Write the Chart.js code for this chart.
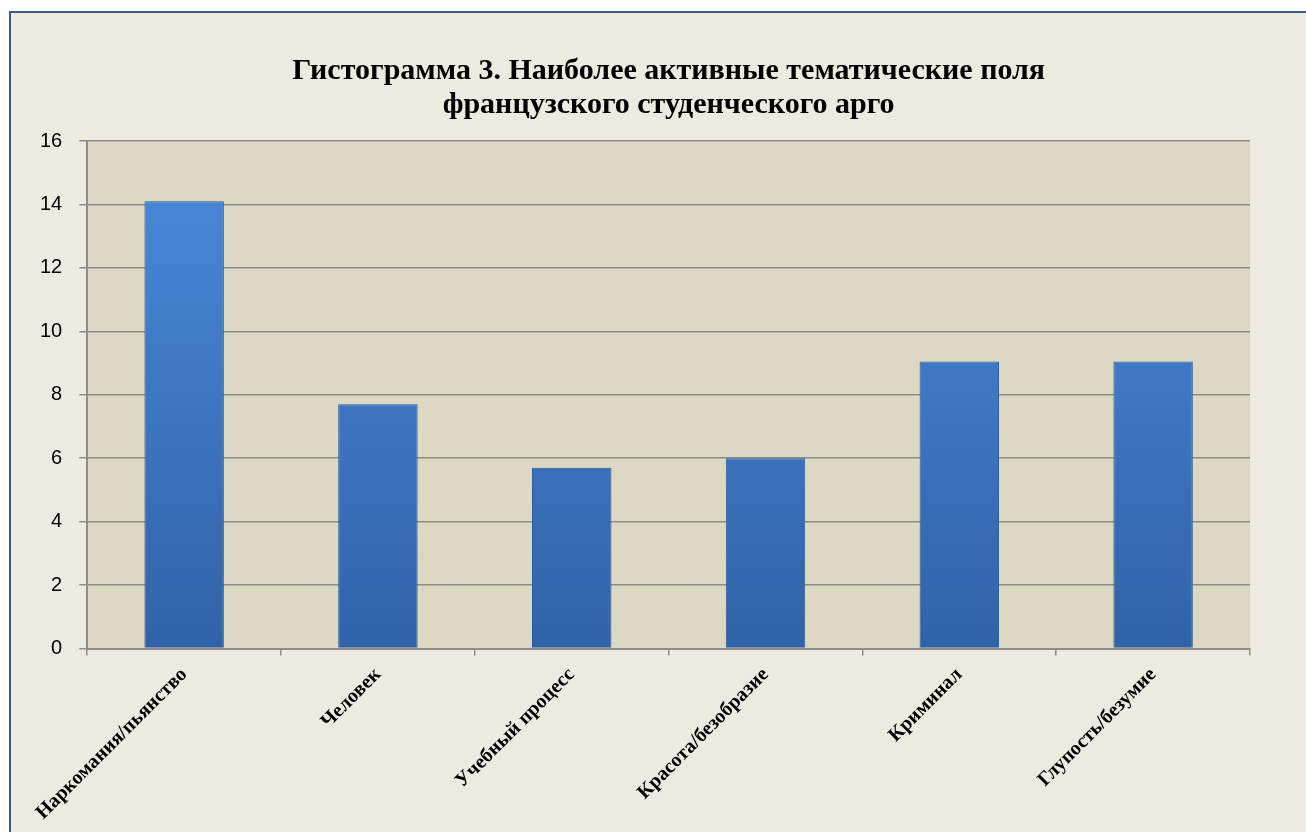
<!DOCTYPE html>
<html>
<head>
<meta charset="utf-8">
<script src="https://cdn.jsdelivr.net/npm/chart.js@4.4.1/dist/chart.umd.min.js"></script>
<style>
  html, body { margin: 0; padding: 0; background: #ffffff; overflow: hidden; }
  #frame {
    position: absolute; left: 9px; top: 11px; width: 1320px; height: 840px;
    border: 2px solid #3b5a86; background: #edebe0;
  }
  #wrap { position: absolute; left: 0; top: 0; width: 1306px; height: 832px; }
</style>
</head>
<body>
<div id="frame"></div>
<div id="wrap"><canvas id="chart"></canvas></div>
<script>
// categories and values
const categories = ['Наркомания/пьянство', 'Человек', 'Учебный процесс', 'Красота/безобразие', 'Криминал', 'Глупость/безумие']
const values = [14.1, 7.7, 5.7, 6.0, 9.05, 9.05]
const titleLines = ['Гистограмма 3. Наиболее активные тематические поля', 'французского студенческого арго']

// plot area fill (beige panel behind bars)
const plotBg = {
  id: 'plotBg',
  beforeDraw(chart) {
    const {ctx, chartArea} = chart
    ctx.save()
    ctx.fillStyle = '#ddd8c3'
    ctx.fillRect(chartArea.left, chartArea.top, chartArea.right - chartArea.left, chartArea.bottom - chartArea.top)
    ctx.restore()
  }
}

// title centred over the plot area, like the office chart does
const plotTitle = {
  id: 'plotTitle',
  afterDraw(chart) {
    const {ctx, chartArea} = chart
    const cx = (chartArea.left + chartArea.right) / 2
    ctx.save()
    ctx.fillStyle = '#000'
    ctx.font = 'bold 30px "Liberation Serif"'
    ctx.textAlign = 'center'
    ctx.textBaseline = 'middle'
    titleLines.forEach((line, i) => ctx.fillText(line, cx, chartArea.top - 70 + i * 34))
    ctx.restore()
  }
}

function barFill(context) {
  const chart = context.chart
  const area = chart.chartArea
  if (!area) return '#3d78c6'
  const g = chart.ctx.createLinearGradient(0, area.top, 0, area.bottom)
  g.addColorStop(0, '#4b8bdb')
  g.addColorStop(1, '#3062a8')
  return g
}

const ctx = document.getElementById('chart').getContext('2d')
new Chart(ctx, {
  type: 'bar',
  data: {
    labels: categories,
    datasets: [{
      data: values,
      backgroundColor: barFill,
      borderColor: '#2c5a98',
      borderWidth: 1,
      barPercentage: 0.82,
      categoryPercentage: 0.5
    }]
  },
  plugins: [plotBg, plotTitle],
  options: {
    responsive: true,
    maintainAspectRatio: false,
    animation: false,
    layout: {padding: {left: 23, right: 56, top: 141, bottom: 0}},
    plugins: {
      legend: {display: false},
      tooltip: {enabled: false},
      title: {display: false}
    },
    scales: {
      x: {
        border: {color: '#8c8c8c', width: 2},
        grid: {drawOnChartArea: false, drawTicks: true, tickLength: 7, color: '#8c8c8c', lineWidth: 1.5},
        ticks: {
          color: '#000',
          font: {family: 'Liberation Serif', size: 20, weight: 'bold'},
          minRotation: 45, maxRotation: 45, padding: 7.5
        }
      },
      y: {
        min: 0, max: 16,
        border: {color: '#8c8c8c', width: 2},
        grid: {color: '#8c8c8c', lineWidth: 1.5, tickLength: 8},
        ticks: {
          stepSize: 2,
          color: '#000',
          font: {family: 'Liberation Sans', size: 20},
          padding: 17
        }
      }
    }
  }
})
</script>
</body>
</html>
